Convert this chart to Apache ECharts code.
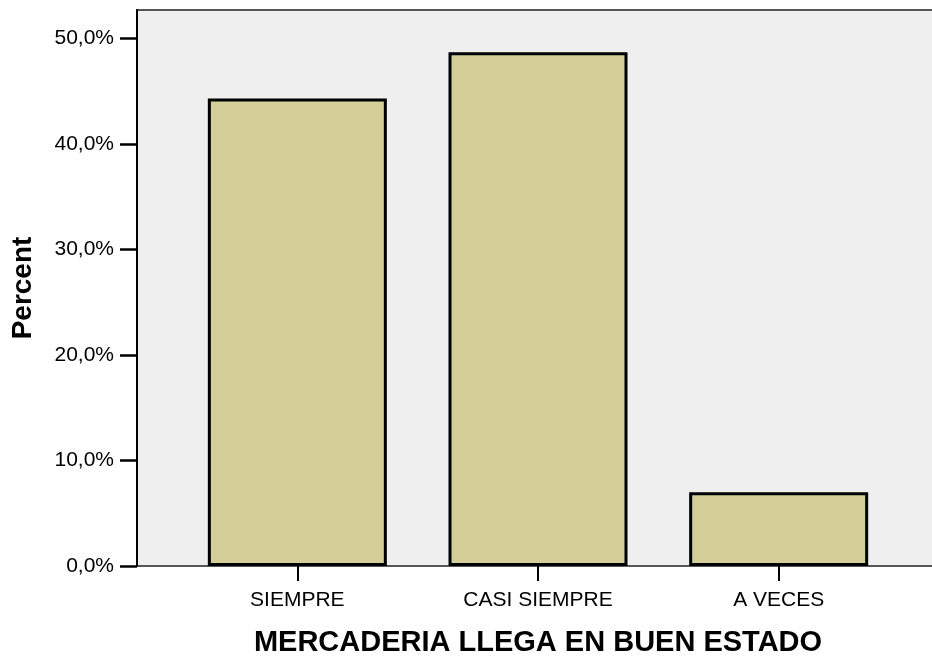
<!DOCTYPE html>
<html>
<head>
<meta charset="utf-8">
<script src="https://cdn.jsdelivr.net/npm/echarts@6/dist/echarts.min.js"></script>
<style>html,body{margin:0;padding:0;background:#fff}#c{width:932px;height:656px}</style>
</head>
<body>
<div id="c"></div>
<script>
const categories = ['SIEMPRE', 'CASI SIEMPRE', 'A VECES'];
const percentValues = [44.3, 48.7, 7.0];
const yTicks = [0, 10, 20, 30, 40, 50];
const xTitle = 'MERCADERIA LLEGA EN BUEN ESTADO';
const yTitle = 'Percent';

const FONT = '"Liberation Sans", Arial, sans-serif';
const chart = echarts.init(document.getElementById('c'), null, {renderer: 'canvas'});
const fmt = v => v.toFixed(1).replace('.', ',') + '%';
chart.setOption({
  animation: false,
  grid: [
    {left: 137, right: -10, top: 10, bottom: 90, show: true, backgroundColor: '#efefef', borderColor: '#222', borderWidth: 1.5, outerBoundsMode: 'none', containLabel: false},
    {left: 177, right: 33, top: 10, bottom: 90, show: false, outerBoundsMode: 'none', containLabel: false}
  ],
  xAxis: [
    {gridIndex: 0, type: 'value', show: false, min: 0, max: 1},
    {gridIndex: 1, type: 'category', data: categories, boundaryGap: true,
     axisLine: {show: false},
     axisTick: {show: true, alignWithLabel: true, length: 15, lineStyle: {color: '#000', width: 2}},
     axisLabel: {color: '#000', fontFamily: FONT, fontSize: 21, margin: 24},
     name: xTitle, nameLocation: 'middle', nameGap: 62,
     nameTextStyle: {color: '#000', fontFamily: FONT, fontSize: 29, fontWeight: 'bold'}}
  ],
  yAxis: [
    {gridIndex: 0, type: 'value', min: 0, max: 52.7, interval: 10,
     axisLine: {show: true, lineStyle: {color: '#000', width: 2}},
     axisTick: {show: true, length: 17, lineStyle: {color: '#000', width: 2.5},
       customValues: yTicks},
     axisLabel: {color: '#000', fontFamily: FONT, fontSize: 21, margin: 23, formatter: fmt, customValues: yTicks},
     splitLine: {show: false},
     name: yTitle, nameLocation: 'middle', nameGap: 100, nameRotate: 90,
     nameTextStyle: {color: '#000', fontFamily: FONT, fontSize: 28, fontWeight: 'bold'}},
    {gridIndex: 1, type: 'value', min: 0, max: 52.7, show: false}
  ],
  series: [{
    type: 'bar', xAxisIndex: 1, yAxisIndex: 1, data: percentValues, barWidth: 179,
    itemStyle: {color: '#d3ce97', borderColor: '#000', borderWidth: 3}
  }]
});
</script>
</body>
</html>
